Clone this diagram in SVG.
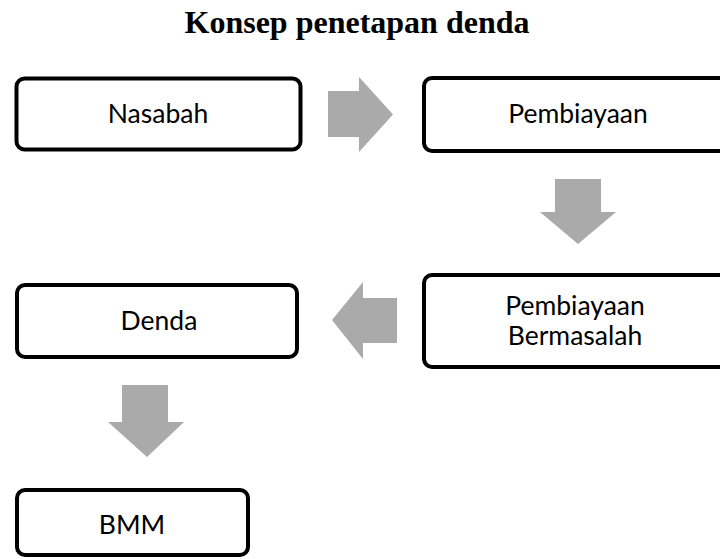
<svg xmlns="http://www.w3.org/2000/svg" width="720" height="559" viewBox="0 0 720 559">
<style>
.box{fill:#fff;stroke:#000;stroke-width:4}
.lbl{font-family:Lato,"Open Sans",sans-serif;font-size:26.5px;fill:#000;text-anchor:middle}
.arr{fill:#aaaaaa}
.title{font-family:"Liberation Serif",serif;font-weight:bold;font-size:32px;text-anchor:middle;fill:#000}
</style>
<rect width="720" height="559" fill="#fff"/>
<text class="title" x="357" y="33">Konsep penetapan denda</text>
<g id="connectors">
<polygon class="arr" points="328,91 359,91 359,77 393,114.5 359,152 359,137 328,137"/>
<polygon class="arr" points="555,179 601,179 601,212 616,212 578,244 540,212 555,212"/>
<polygon class="arr" points="397,298 363,298 363,282 332,320 363,359 363,343 397,343"/>
<polygon class="arr" points="122,385 168,385 168,422 184,422 147,457 108,422 122,422"/>
</g>
<g id="nasabah">
<rect class="box" x="16.5" y="78.5" width="284" height="71" rx="8"/>
<text class="lbl" x="158" y="123">Nasabah</text>
</g>
<g id="pembiayaan">
<rect class="box" x="424" y="78" width="310" height="73" rx="8"/>
<text class="lbl" x="578" y="123">Pembiayaan</text>
</g>
<g id="pembiayaan-bermasalah">
<rect class="box" x="424" y="275" width="310" height="92" rx="8"/>
<text class="lbl" x="575" y="315">Pembiayaan</text>
<text class="lbl" x="575" y="345">Bermasalah</text>
</g>
<g id="denda">
<rect class="box" x="17" y="285" width="280" height="72" rx="8"/>
<text class="lbl" x="159" y="330">Denda</text>
</g>
<g id="bmm">
<rect class="box" x="17" y="490" width="231" height="65" rx="8"/>
<text class="lbl" x="132" y="534">BMM</text>
</g>
</svg>
